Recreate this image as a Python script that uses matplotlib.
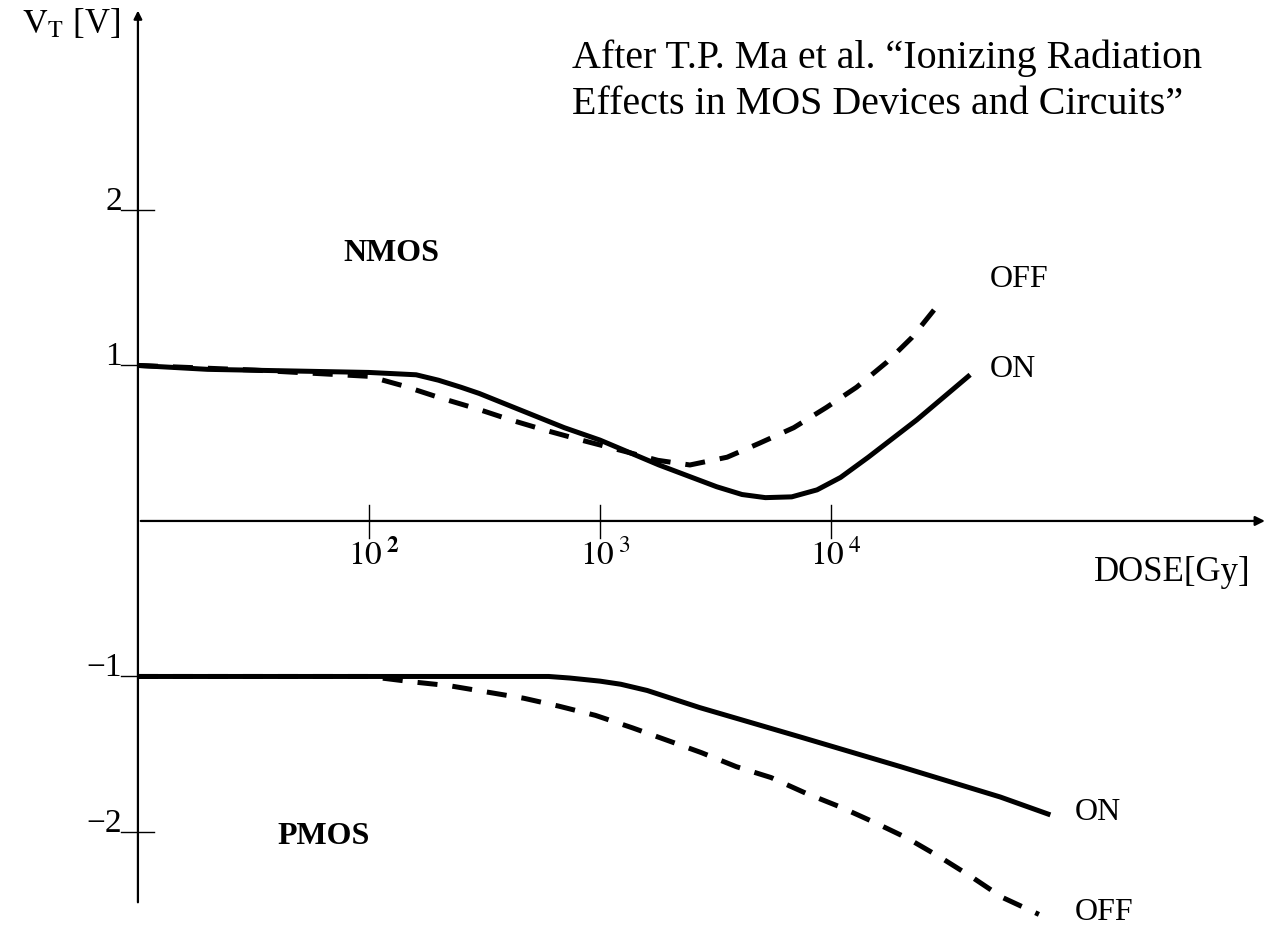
import matplotlib.pyplot as plt
import numpy as np

plt.rcParams['font.family'] = ['Liberation Serif', 'DejaVu Serif']
plt.rcParams['mathtext.fontset'] = 'stix'

# dose in Gy, threshold voltage in V
nmos_on_dose = [10, 20, 100, 160, 200, 250, 300, 700, 1000, 1800, 3200, 4120, 5200, 6760,
                8700, 11000, 14500, 23500, 40000]
nmos_on_vt = [1.0, 0.975, 0.955, 0.94, 0.905, 0.86, 0.82, 0.60, 0.52, 0.36, 0.22, 0.17, 0.15,
              0.155, 0.20, 0.28, 0.41, 0.65, 0.94]

nmos_off_dose = [10, 32, 100, 140, 205, 295, 410, 575, 830, 1260, 1780, 2450, 3550, 4900, 6900,
                 9550, 12900, 17400, 22400, 30200]
nmos_off_vt = [1.0, 0.97, 0.93, 0.87, 0.79, 0.72, 0.65, 0.585, 0.52, 0.45, 0.39, 0.36, 0.41,
               0.50, 0.60, 0.73, 0.86, 1.02, 1.18, 1.42]

pmos_on_dose = [10, 100, 600, 740, 1000, 1230, 1600, 2700, 7400, 20000, 54000, 89000]
pmos_on_vt = [-1.0, -1.0, -1.0, -1.01, -1.03, -1.05, -1.09, -1.20, -1.39, -1.58, -1.775, -1.89]

pmos_off_dose = [10, 100, 155, 224, 324, 468, 660, 955, 1380, 1950, 2750, 3890, 5500, 7760,
                 11000, 15500, 21400, 29500, 40700, 55000, 79400]
pmos_off_vt = [-1.0, -1.0, -1.035, -1.06, -1.10, -1.14, -1.19, -1.25, -1.33, -1.41, -1.49, -1.58,
               -1.65, -1.75, -1.84, -1.94, -2.04, -2.16, -2.29, -2.42, -2.53]

x_ticks = [100, 1000, 10000]
x_tick_labels = [r'$10^{\;\mathbf{2}}$', r'$10^{\;3}$', r'$10^{\;4}$']
y_ticks = [2, 1, -1, -2]
y_tick_labels = ['2', '1', '\u22121', '\u22122']

# pixel -> data helpers for placing the free text labels
def px_x(px):
    return 10 ** (2 + (px - 369) / 231)

def px_y(py):
    return (521 - py) / 155.5

fig = plt.figure(figsize=(12.76, 9.27), dpi=100)
ax = fig.add_axes([0, 0, 1, 1])
ax.set_xscale('log')
ax.set_xlim(10 ** 0.403, 10 ** 5.926)
ax.set_ylim(-2.611, 3.35)
ax.axis('off')

# axes with arrows
ax.annotate('', xy=(10 ** 5.89, 0), xytext=(10, 0),
            arrowprops=dict(arrowstyle='-|>', lw=1.6, color='k', mutation_scale=14))
ax.annotate('', xy=(10, 3.30), xytext=(10, -2.47),
            arrowprops=dict(arrowstyle='-|>', lw=1.6, color='k', mutation_scale=12))

# ticks
for t in x_ticks:
    ax.plot([t, t], [-0.11, 0.10], color='k', lw=1.0)
for t, lab in zip(x_ticks, x_tick_labels):
    ax.text(t * 1.05, -0.22, lab, ha='center', va='center', fontsize=24)
for t, lab in zip(y_ticks, y_tick_labels):
    x_end = 10 ** 1.07 if abs(t) == 2 else 10
    ax.plot([10 ** 0.928, x_end], [t, t], color='k', lw=1.0)
    ax.text(10 ** 0.93, t, lab, ha='right', va='baseline', fontsize=24)

# curves
ax.plot(nmos_on_dose, nmos_on_vt, color='k', lw=3.6, solid_capstyle='butt', solid_joinstyle='round')
ax.plot(nmos_off_dose, nmos_off_vt, color='k', lw=3.6, dashes=(4, 3))
ax.plot(pmos_on_dose, pmos_on_vt, color='k', lw=3.6, solid_capstyle='butt', solid_joinstyle='round')
ax.plot(pmos_off_dose, pmos_off_vt, color='k', lw=3.6, dashes=(4, 3))

# labels
ax.text(px_x(990), px_y(280), 'OFF', ha='left', va='center', fontsize=23)
ax.text(px_x(990), px_y(370), 'ON', ha='left', va='center', fontsize=23)
ax.text(px_x(1075), px_y(813), 'ON', ha='left', va='center', fontsize=23)
ax.text(px_x(1075), px_y(913), 'OFF', ha='left', va='center', fontsize=23)
ax.text(px_x(343), px_y(254), 'NMOS', ha='left', va='center', fontsize=23, fontweight='bold')
ax.text(px_x(277), px_y(837), 'PMOS', ha='left', va='center', fontsize=23, fontweight='bold')
ax.text(px_x(1094), px_y(573), 'DOSE[Gy]', ha='left', va='center', fontsize=25)

fig.text(22 / 1276, 1 - 24 / 927, r'$\mathrm{V}_{\mathrm{T}}$ [V]', ha='left', va='center', fontsize=25)
fig.text(572 / 1276, 1 - 68 / 927, 'After T.P. Ma et al. \u201cIonizing Radiation',
         ha='left', va='baseline', fontsize=28.8)
fig.text(572 / 1276, 1 - 114 / 927, 'Effects in MOS Devices and Circuits\u201d',
         ha='left', va='baseline', fontsize=28.8)

fig.savefig('out.png', dpi=100)
